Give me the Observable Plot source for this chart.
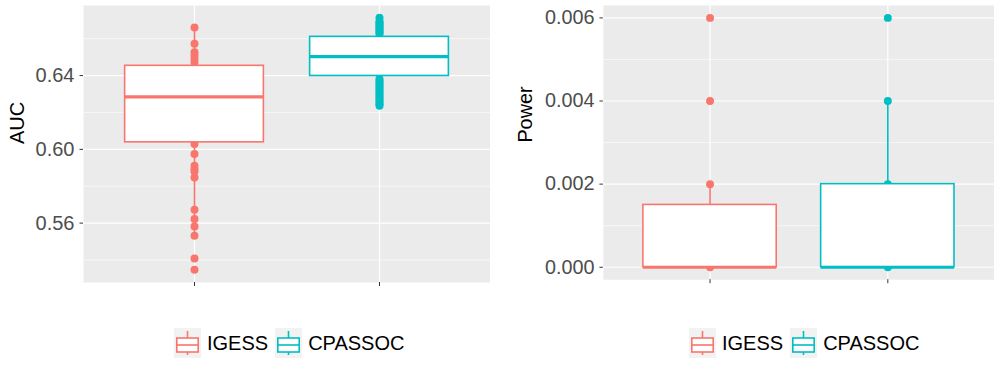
<!DOCTYPE html>
<html>
<head>
<meta charset="utf-8">
<script src="https://cdn.jsdelivr.net/npm/d3@7"></script>
<script src="https://cdn.jsdelivr.net/npm/@observablehq/plot@0.6"></script>
<style>
  body { margin: 0; background: #fff; font-family: "Liberation Sans", Arial, Helvetica, sans-serif; }
  #root { position: relative; width: 994px; height: 365px; overflow: hidden; background: #fff; }
  .panel { position: absolute; top: 0; }
  .legend { position: absolute; top: 328px; display: flex; align-items: center; font-size: 20px; color: #000; height: 30px; }
  .legend .item { display: flex; align-items: center; }
  .legend svg { display: block; }
  .legend .lab { margin-left: 6px; margin-right: 7px; line-height: 30px; }
</style>
</head>
<body>
<div id="root">
  <div class="panel" id="left" style="left:0px"></div>
  <div class="panel" id="right" style="left:490px"></div>
  <div class="legend" id="legLeft" style="left:174px"></div>
  <div class="legend" id="legRight" style="left:689px"></div>
</div>
<script>
// ---- data ----
const methods = ["IGESS", "CPASSOC"];
const methodColors = ["#F8766D", "#00BFC4"];

// AUC box statistics (per method)
const aucQ1 = [0.6038, 0.6398];
const aucMedian = [0.6284, 0.6503];
const aucQ3 = [0.6453, 0.6610];
const aucLow = [0.5531, 0.6237];
const aucHigh = [0.6661, 0.6713];
// AUC plotted points
const aucPointsIGESS = [0.6661, 0.6572, 0.6527, 0.6509, 0.6491, 0.6472, 0.6029, 0.5975, 0.5911, 0.5893, 0.5880, 0.5848, 0.5673, 0.5622, 0.5582, 0.5531, 0.5408, 0.5347];
const aucPointsCPASSOC = [0.6713, 0.6695, 0.6688, 0.6680, 0.6672, 0.6664, 0.6656, 0.6648, 0.6640, 0.6632, 0.6625, 0.6382, 0.6372, 0.6362, 0.6352, 0.6342, 0.6332, 0.6322, 0.6312, 0.6302, 0.6292, 0.6282, 0.6272, 0.6262, 0.6252, 0.6244, 0.6237];
const aucMajorTicks = [0.56, 0.60, 0.64];
const aucMinorTicks = [0.54, 0.58, 0.62, 0.66];
const aucDomain = [0.5278, 0.678];

// Power box statistics
const powQ1 = [0, 0];
const powMedian = [0, 0];
const powQ3 = [0.0015, 0.002];
const powLow = [0, 0];
const powHigh = [0.002, 0.004];
const powPointsIGESS = [0, 0.002, 0.004, 0.006];
const powPointsCPASSOC = [0, 0.002, 0.004, 0.006];
const powMajorTicks = [0, 0.002, 0.004, 0.006];
const powMinorTicks = [0.001, 0.003, 0.005];
const powDomain = [-0.0003, 0.0063];

function makeBoxes(q1, med, q3, lo, hi) {
  return methods.map((m, i) => ({method: m, pos: i + 1, q1: q1[i], median: med[i], q3: q3[i], low: lo[i], high: hi[i]}));
}
function makePoints(lists) {
  const out = [];
  lists.forEach((arr, i) => arr.forEach(v => out.push({method: methods[i], pos: i + 1, value: v})));
  return out;
}

function panel({width, marginLeft, boxes, points, domain, major, minor, fmt, label, labelDx}) {
  const hw = 0.375;
  return Plot.plot({
    width, height: 300,
    marginLeft, marginRight: 0, marginTop: 5, marginBottom: 18,
    style: {fontFamily: '"Liberation Sans", Arial, Helvetica, sans-serif', background: "transparent"},
    x: {type: "linear", domain: [0.4, 2.6]},
    y: {domain},
    color: {domain: methods, range: methodColors},
    marks: [
      Plot.frame({fill: "#EBEBEB", stroke: "none"}),
      Plot.gridY(minor, {stroke: "white", strokeOpacity: 1, strokeWidth: 0.6}),
      Plot.gridY(major, {stroke: "white", strokeOpacity: 1, strokeWidth: 1.2}),
      Plot.gridX([1, 2], {stroke: "white", strokeOpacity: 1, strokeWidth: 1.2}),
      Plot.dot(points, {x: "pos", y: "value", r: 4, fill: "method", stroke: "none"}),
      Plot.ruleX(boxes, {x: "pos", y1: "low", y2: "high", stroke: "method", strokeWidth: 1.6}),
      Plot.rect(boxes, {x1: d => d.pos - hw, x2: d => d.pos + hw, y1: "q1", y2: "q3", fill: "white", stroke: "method", strokeWidth: 1.6}),
      Plot.ruleY(boxes, {x1: d => d.pos - hw, x2: d => d.pos + hw, y: "median", stroke: "method", strokeWidth: 3.2}),
      Plot.axisY(major, {tickSize: 3.5, tickPadding: 5.5, fontSize: 20, fill: "#4D4D4D", stroke: "#333333", label: null, tickFormat: d3.format(fmt)}),
      Plot.axisX([1, 2], {tickSize: 4, tickFormat: () => "", stroke: "#333333", label: null}),
      Plot.text([label], {frameAnchor: "left", rotate: -90, dx: labelDx, fontSize: 20, fill: "#000", text: d => d})
    ]
  });
}

document.getElementById("left").appendChild(panel({
  width: 490, marginLeft: 83,
  boxes: makeBoxes(aucQ1, aucMedian, aucQ3, aucLow, aucHigh),
  points: makePoints([aucPointsIGESS, aucPointsCPASSOC]),
  domain: aucDomain, major: aucMajorTicks, minor: aucMinorTicks, fmt: ".2f",
  label: "AUC", labelDx: -66
}));
document.getElementById("right").appendChild(panel({
  width: 509, marginLeft: 114,
  boxes: makeBoxes(powQ1, powMedian, powQ3, powLow, powHigh),
  points: makePoints([powPointsIGESS, powPointsCPASSOC]),
  domain: powDomain, major: powMajorTicks, minor: powMinorTicks, fmt: ".3f",
  label: "Power", labelDx: -78
}));

function keySvg(color) {
  return `<svg width="27" height="30" viewBox="0 0 27 30">
    <rect x="0" y="0" width="27" height="30" fill="#F2F2F2"/>
    <line x1="13.5" x2="13.5" y1="3" y2="27" stroke="${color}" stroke-width="1.6"/>
    <rect x="2.8" y="10" width="21.4" height="14" fill="white" stroke="${color}" stroke-width="1.6"/>
    <line x1="2.8" x2="24.2" y1="17" y2="17" stroke="${color}" stroke-width="1.6"/>
  </svg>`;
}
function legend(el) {
  el.innerHTML = methods.map((m, i) => `<div class="item">${keySvg(methodColors[i])}<span class="lab">${m}</span></div>`).join("");
}
legend(document.getElementById("legLeft"));
legend(document.getElementById("legRight"));
</script>
</body>
</html>
